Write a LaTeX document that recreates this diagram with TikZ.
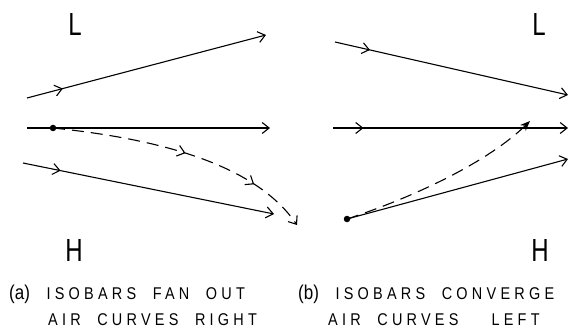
\documentclass[tikz,border=0pt]{standalone}
\usepackage{fontspec}
\setmainfont{Liberation Sans}
\newfontfamily\polefont[FakeStretch=0.75]{Liberation Sans}
\newfontfamily\capfont[FakeStretch=0.85,LetterSpace=25,WordSpace=2]{Liberation Sans}
\newfontfamily\tagfont[FakeStretch=0.85]{Liberation Sans}
\usetikzlibrary{arrows.meta,decorations.markings}

\tikzset{
  barb/.tip={Straight Barb[length=7pt,width=11pt,line width=1.1pt]},
  isobar/.style={line width=1.1pt,-barb},
  airpath/.style={line width=1.1pt,dash pattern=on 12pt off 7pt},
  midarrow/.style={postaction={decorate,decoration={markings,
      mark=at position #1 with {\arrow{barb}}}}},
  dot/.style={circle,fill,inner sep=0pt,minimum size=6.5pt},
  pole/.style={font=\polefont\fontsize{32}{34}\selectfont,inner sep=0pt},
  captext/.style={font=\capfont\fontsize{17}{19}\selectfont,anchor=base west,inner sep=0pt}
}

\begin{document}
\begin{tikzpicture}[x=1pt,y=-1pt]
\useasboundingbox (0,0) rectangle (570,331);

% (a) isobars fan out
\node[pole] (La) at (75,24) {L};
\node[pole] (Ha) at (74,250) {H};
\coordinate (a1s) at (27,98);  \coordinate (a1e) at (266,35);
\coordinate (a2s) at (27,128); \coordinate (a2e) at (270,128);
\coordinate (a3s) at (23,163); \coordinate (a3e) at (274,214);
\coordinate (aend) at (297,225);
\node[dot] (pa) at (53,128) {};
\draw[isobar,midarrow=0.15] (a1s) -- (a1e);
\draw[isobar] (a2s) -- (a2e);
\draw[isobar,midarrow=0.15] (a3s) -- (a3e);
\draw[airpath,midarrow=0.5,midarrow=0.78,-barb] (pa.center)
  .. controls (170,140) and (258,168) .. (aend);
\node[captext] (capa1) at (9,299) {{\tagfont\fontsize{20}{20}\selectfont(a)} ISOBARS FAN OUT};
\node[captext] (capa2) at (48,325) {AIR CURVES RIGHT};

% (b) isobars converge
\node[pole] (Lb) at (539,24) {L};
\node[pole] (Hb) at (540,250) {H};
\coordinate (b1s) at (335,42);  \coordinate (b1e) at (568,95);
\coordinate (b2s) at (333,128); \coordinate (b2e) at (568,128);
\coordinate (b3e) at (568,159);
\coordinate (bend) at (530,121);
\node[dot] (pb) at (347,219) {};
\draw[isobar,midarrow=0.15] (b1s) -- (b1e);
\draw[isobar,midarrow=0.13] (b2s) -- (b2e);
\draw[isobar] (pb.center) -- (b3e);
\draw[airpath,-{Stealth[length=10pt,width=8pt]}] (pb.center)
  .. controls (420,195) and (490,160) .. (bend);
\node[captext] (capb1) at (298,299) {{\tagfont\fontsize{20}{20}\selectfont(b)} ISOBARS CONVERGE};
\node[captext] (capb2) at (328,325) {AIR CURVES\ \ LEFT};

\end{tikzpicture}
\end{document}
